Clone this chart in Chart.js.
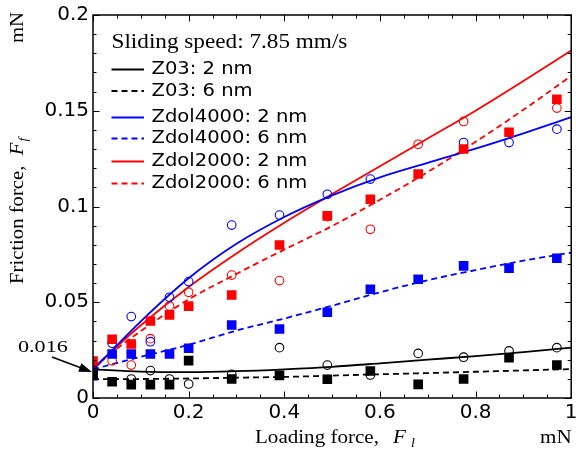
<!DOCTYPE html>
<html>
<head>
<meta charset="utf-8">
<script src="https://cdn.jsdelivr.net/npm/chart.js@4/dist/chart.umd.min.js"></script>
<style>
html,body{margin:0;padding:0;background:#fff;}
#wrap{width:578px;height:451px;position:relative;}
</style>
</head>
<body>
<div id="wrap"><canvas id="c"></canvas></div>
<script>
// ---------- data ----------
const xTickLabels = ['0','0.2','0.4','0.6','0.8','1'];
const yTickLabels = ['0','0.05','0.1','0.15','0.2'];

// fitted curves, sampled at lineX
const lineX = [0,0.1,0.2,0.3,0.4,0.5,0.6,0.7,0.8,0.9,1.0];
const z03_2nm_fit      = [0.0150,0.0138,0.0135,0.0140,0.0150,0.0163,0.0181,0.0200,0.0219,0.0240,0.0263];
const z03_6nm_fit      = [0.0098,0.0099,0.0102,0.0106,0.0110,0.0117,0.0124,0.0130,0.0137,0.0144,0.0151];
const zdol4000_2nm_fit = [0.0146,0.0400,0.0625,0.0805,0.0945,0.1058,0.1152,0.1228,0.1302,0.1382,0.1467];
const zdol4000_6nm_fit = [0.0150,0.0215,0.0278,0.0352,0.0415,0.0482,0.0552,0.0615,0.0668,0.0717,0.0759];
const zdol2000_2nm_fit = [0.0155,0.0380,0.0580,0.0755,0.0915,0.1065,0.1210,0.1355,0.1500,0.1655,0.1815];
const zdol2000_6nm_fit = [0.0162,0.0350,0.0515,0.0648,0.0775,0.0898,0.1035,0.1180,0.1338,0.1505,0.1682];

// measured points
const z03_2nm_x = [0,0.08,0.12,0.16,0.2,0.29,0.39,0.49,0.58,0.68,0.775,0.87,0.97];
const z03_2nm_y = [0.0146,0.0099,0.0143,0.0099,0.0073,0.0124,0.0263,0.0172,0.0120,0.0233,0.0213,0.0246,0.0263];

const z03_6nm_x = [0,0.04,0.08,0.12,0.16,0.2,0.29,0.39,0.49,0.58,0.68,0.775,0.87,0.97];
const z03_6nm_y = [0.0120,0.0085,0.0070,0.0070,0.0070,0.0195,0.0099,0.0118,0.0098,0.0141,0.0071,0.0099,0.0210,0.0172];

const zdol4000_2nm_x = [0,0.04,0.08,0.12,0.16,0.2,0.29,0.39,0.49,0.58,0.775,0.87,0.97];
const zdol4000_2nm_y = [0.0146,0.0286,0.0425,0.0294,0.0526,0.0608,0.0903,0.0955,0.1064,0.1143,0.1334,0.1334,0.1404];

const zdol4000_6nm_x = [0,0.04,0.08,0.12,0.16,0.2,0.29,0.39,0.49,0.58,0.68,0.775,0.87,0.97];
const zdol4000_6nm_y = [0.0117,0.0230,0.0230,0.0230,0.0230,0.0260,0.0381,0.0360,0.0448,0.0568,0.0620,0.0690,0.0678,0.0730];

const zdol2000_2nm_x = [0,0.04,0.08,0.12,0.16,0.2,0.29,0.39,0.49,0.58,0.68,0.775,0.97];
const zdol2000_2nm_y = [0.0143,0.0194,0.0172,0.0310,0.0481,0.0552,0.0642,0.0613,0.0947,0.0881,0.1325,0.1444,0.1514];

const zdol2000_6nm_x = [0,0.04,0.08,0.12,0.16,0.2,0.29,0.39,0.49,0.58,0.68,0.775,0.87,0.97];
const zdol2000_6nm_y = [0.0193,0.0307,0.0282,0.0402,0.0434,0.0480,0.0538,0.0799,0.0951,0.1038,0.1170,0.1300,0.1388,0.1560];

const seriesLabels = ['Z03: 2 nm','Z03: 6 nm','Zdol4000: 2 nm','Zdol4000: 6 nm','Zdol2000: 2 nm','Zdol2000: 6 nm'];
const legendTitle = 'Sliding speed: 7.85 mm/s';
const annotationText = '0.016';

// ---------- build ----------
const BLACK = '#000000', BLUE = '#0000ff', RED = '#ff0000';
const pts = (xs, ys) => xs.map((v, i) => ({x: v, y: ys[i]}));

function fitDs(label, ys, color, dashed) {
  return {
    label, data: pts(lineX, ys), showLine: true, borderColor: color, backgroundColor: color,
    borderWidth: 1.8, borderDash: dashed ? [6, 4] : [], pointRadius: 0, pointHoverRadius: 0,
    tension: 0.4, cubicInterpolationMode: 'monotone', order: 2, isFit: true
  };
}
function circleDs(label, xs, ys, color) {
  return {
    label, data: pts(xs, ys), showLine: false, pointStyle: 'circle', pointRadius: 4.3,
    pointBorderWidth: 1.1, pointBorderColor: color, pointBackgroundColor: 'rgba(0,0,0,0)', order: 1
  };
}
function squareDs(label, xs, ys, color) {
  return {
    label, data: pts(xs, ys), showLine: false, pointStyle: 'rect', pointRadius: 6.8,
    pointBorderWidth: 0, pointBorderColor: color, pointBackgroundColor: color, order: 0
  };
}

const datasets = [
  fitDs(seriesLabels[0], z03_2nm_fit, BLACK, false),
  fitDs(seriesLabels[1], z03_6nm_fit, BLACK, true),
  fitDs(seriesLabels[2], zdol4000_2nm_fit, BLUE, false),
  fitDs(seriesLabels[3], zdol4000_6nm_fit, BLUE, true),
  fitDs(seriesLabels[4], zdol2000_2nm_fit, RED, false),
  fitDs(seriesLabels[5], zdol2000_6nm_fit, RED, true),
  squareDs(seriesLabels[1] + ' data', z03_6nm_x, z03_6nm_y, BLACK),
  squareDs(seriesLabels[3] + ' data', zdol4000_6nm_x, zdol4000_6nm_y, BLUE),
  squareDs(seriesLabels[5] + ' data', zdol2000_6nm_x, zdol2000_6nm_y, RED),
  circleDs(seriesLabels[0] + ' data', z03_2nm_x, z03_2nm_y, BLACK),
  circleDs(seriesLabels[2] + ' data', zdol4000_2nm_x, zdol4000_2nm_y, BLUE),
  circleDs(seriesLabels[4] + ' data', zdol2000_2nm_x, zdol2000_2nm_y, RED),
];

function sText(ctx, text, x, y, font, sx, align) {
  ctx.save();
  ctx.font = font;
  ctx.translate(x, y);
  ctx.scale(sx, 1);
  ctx.textAlign = align || 'left';
  ctx.fillText(text, 0, 0);
  const w = ctx.measureText(text).width * sx;
  ctx.restore();
  return w;
}

const SERIF = '"Liberation Serif", "Times New Roman", serif';
const SANS = '"DejaVu Sans", sans-serif';

const decor = {
  id: 'decor',
  afterDraw(chart) {
    const {ctx, chartArea: a, scales: {x, y}} = chart;
    ctx.save();
    ctx.fillStyle = '#000';
    ctx.strokeStyle = '#000';
    // frame
    ctx.lineWidth = 1.5;
    ctx.strokeRect(a.left, a.top, a.right - a.left, a.bottom - a.top);
    // inward ticks on all sides
    ctx.lineWidth = 1;
    ctx.beginPath();
    for (let i = 0; i <= 20; i++) {
      const px = Math.round(x.getPixelForValue(i * 0.05)) + 0.5;
      const len = (i % 4 === 0) ? 6.5 : 3.5;
      ctx.moveTo(px, a.bottom); ctx.lineTo(px, a.bottom - len);
      ctx.moveTo(px, a.top); ctx.lineTo(px, a.top + len);
    }
    for (let i = 0; i <= 20; i++) {
      const py = Math.round(y.getPixelForValue(i * 0.01)) + 0.5;
      const len = (i % 5 === 0) ? 6.5 : 3.5;
      ctx.moveTo(a.left, py); ctx.lineTo(a.left + len, py);
      ctx.moveTo(a.right, py); ctx.lineTo(a.right - len, py);
    }
    ctx.stroke();

    // legend (inside plot)
    ctx.textBaseline = 'alphabetic';
    sText(ctx, legendTitle, 111.5, 48, '20px ' + SERIF, 1.16);
    const rowsY = [69.5, 91, 117.5, 138.5, 161.5, 183.5];
    const fits = chart.data.datasets.filter(d => d.isFit);
    fits.forEach((d, i) => {
      const yy = rowsY[i];
      ctx.save();
      ctx.strokeStyle = d.borderColor;
      ctx.lineWidth = 1.8;
      ctx.setLineDash(d.borderDash);
      ctx.beginPath(); ctx.moveTo(111.5, yy); ctx.lineTo(144, yy); ctx.stroke();
      ctx.restore();
      ctx.textBaseline = 'middle';
      sText(ctx, d.label, 151.5, yy + 0.5, '17px ' + SANS, 1.15);
    });

    // annotation 0.016 with arrow
    ctx.textBaseline = 'alphabetic';
    sText(ctx, annotationText, 18, 352, '17px ' + SERIF, 1.3);
    const x0 = 52, y0 = 357, x1 = x.getPixelForValue(0) - 1, y1 = 372;
    const ang = Math.atan2(y1 - y0, x1 - x0);
    ctx.lineWidth = 1.5;
    ctx.beginPath(); ctx.moveTo(x0, y0); ctx.lineTo(x1 - 10 * Math.cos(ang), y1 - 10 * Math.sin(ang)); ctx.stroke();
    ctx.beginPath();
    ctx.moveTo(x1, y1);
    ctx.lineTo(x1 - 13 * Math.cos(ang) + 4.5 * Math.sin(ang), y1 - 13 * Math.sin(ang) - 4.5 * Math.cos(ang));
    ctx.lineTo(x1 - 13 * Math.cos(ang) - 4.5 * Math.sin(ang), y1 - 13 * Math.sin(ang) + 4.5 * Math.cos(ang));
    ctx.closePath(); ctx.fill();

    // x axis title
    sText(ctx, 'Loading force,', 255, 443, '18px ' + SERIF, 1.17);
    sText(ctx, 'F', 393, 443, 'italic 18px ' + SERIF, 1.17);
    sText(ctx, 'l', 411, 447, 'italic 12px ' + SERIF, 1.17);
    sText(ctx, 'mN', 540, 443, '18px ' + SERIF, 1.17);

    // y axis title (rotated)
    ctx.save();
    ctx.translate(23, 284);
    ctx.rotate(-Math.PI / 2);
    let w = sText(ctx, 'Friction force,  ', 0, 0, '18px ' + SERIF, 1.15);
    const wf = sText(ctx, 'F', w, 0, 'italic 18px ' + SERIF, 1.15);
    sText(ctx, 'f', w + wf + 1, 4, 'italic 12px ' + SERIF, 1.15);
    ctx.restore();
    ctx.save();
    ctx.translate(23, 43);
    ctx.rotate(-Math.PI / 2);
    sText(ctx, 'mN', 0, 0, '18px ' + SERIF, 1.15);
    ctx.restore();

    ctx.restore();
  }
};

Chart.defaults.font.family = SANS;
Chart.defaults.color = '#000';

new Chart(document.getElementById('c'), {
  type: 'scatter',
  data: { datasets },
  options: {
    responsive: true,
    maintainAspectRatio: false,
    animation: false,
    events: [],
    layout: { padding: { top: 15, right: 2, left: 0, bottom: 0 } },
    plugins: { legend: { display: false }, tooltip: { enabled: false } },
    scales: {
      x: {
        type: 'linear', min: 0, max: 1,
        grid: { display: false, drawTicks: false },
        border: { display: false },
        ticks: { stepSize: 0.2, padding: 3, font: { size: 20 }, maxRotation: 0,
                 callback: (v, i) => xTickLabels[i] },
        afterFit: s => { s.height = 53; s.paddingLeft = 0; s.paddingRight = 0; }
      },
      y: {
        type: 'linear', min: 0, max: 0.2,
        grid: { display: false, drawTicks: false },
        border: { display: false },
        ticks: { stepSize: 0.05, padding: 4, font: { size: 20 },
                 callback: (v, i) => yTickLabels[i] },
        afterFit: s => { s.width = 93; s.paddingTop = 0; s.paddingBottom = 0; }
      }
    }
  },
  plugins: [decor]
});
</script>
</body>
</html>
